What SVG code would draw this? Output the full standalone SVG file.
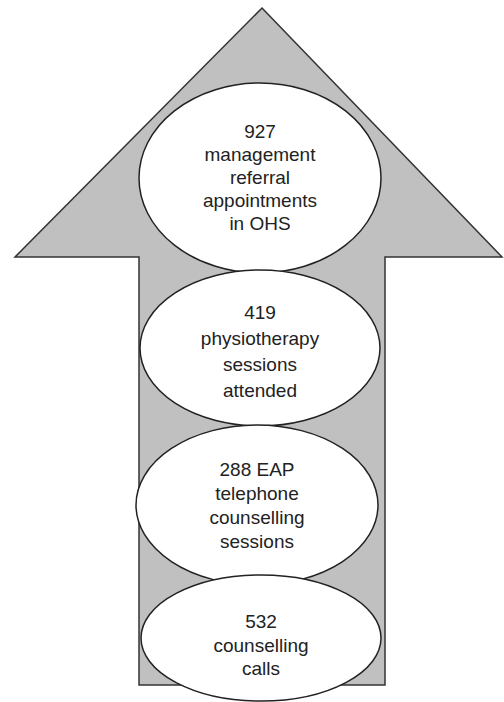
<svg xmlns="http://www.w3.org/2000/svg" width="504" height="702" viewBox="0 0 504 702">
<style>
.arrow{fill:#c0c0c0;stroke:#333;stroke-width:1.5}
.node ellipse{fill:#fff;stroke:#222;stroke-width:1.5}
.node text{font-family:"Liberation Sans",Arial,sans-serif;font-size:19px;fill:#222;text-anchor:middle}
</style>
<rect width="504" height="702" fill="#fff"/>
<g id="arrow">
<polygon class="arrow" points="262,8 502,257 385,257 385,685 139,685 139,257 15,257"/>
</g>
<g id="node1" class="node">
<ellipse cx="260" cy="178" rx="121" ry="95"/>
<text x="260" y="138">927</text>
<text x="260" y="161">management</text>
<text x="260" y="184">referral</text>
<text x="260" y="207">appointments</text>
<text x="260" y="230">in OHS</text>
</g>
<g id="node2" class="node">
<ellipse cx="260" cy="348" rx="120" ry="78"/>
<text x="260" y="319">419</text>
<text x="260" y="345">physiotherapy</text>
<text x="260" y="371">sessions</text>
<text x="260" y="397">attended</text>
</g>
<g id="node3" class="node">
<ellipse cx="257" cy="505" rx="121" ry="80"/>
<text x="257" y="476">288 EAP</text>
<text x="257" y="500">telephone</text>
<text x="257" y="524">counselling</text>
<text x="257" y="548">sessions</text>
</g>
<g id="node4" class="node">
<ellipse cx="261" cy="638" rx="120" ry="63"/>
<text x="261" y="628">532</text>
<text x="261" y="652">counselling</text>
<text x="261" y="675">calls</text>
</g>
<g id="connectors"></g>
</svg>
